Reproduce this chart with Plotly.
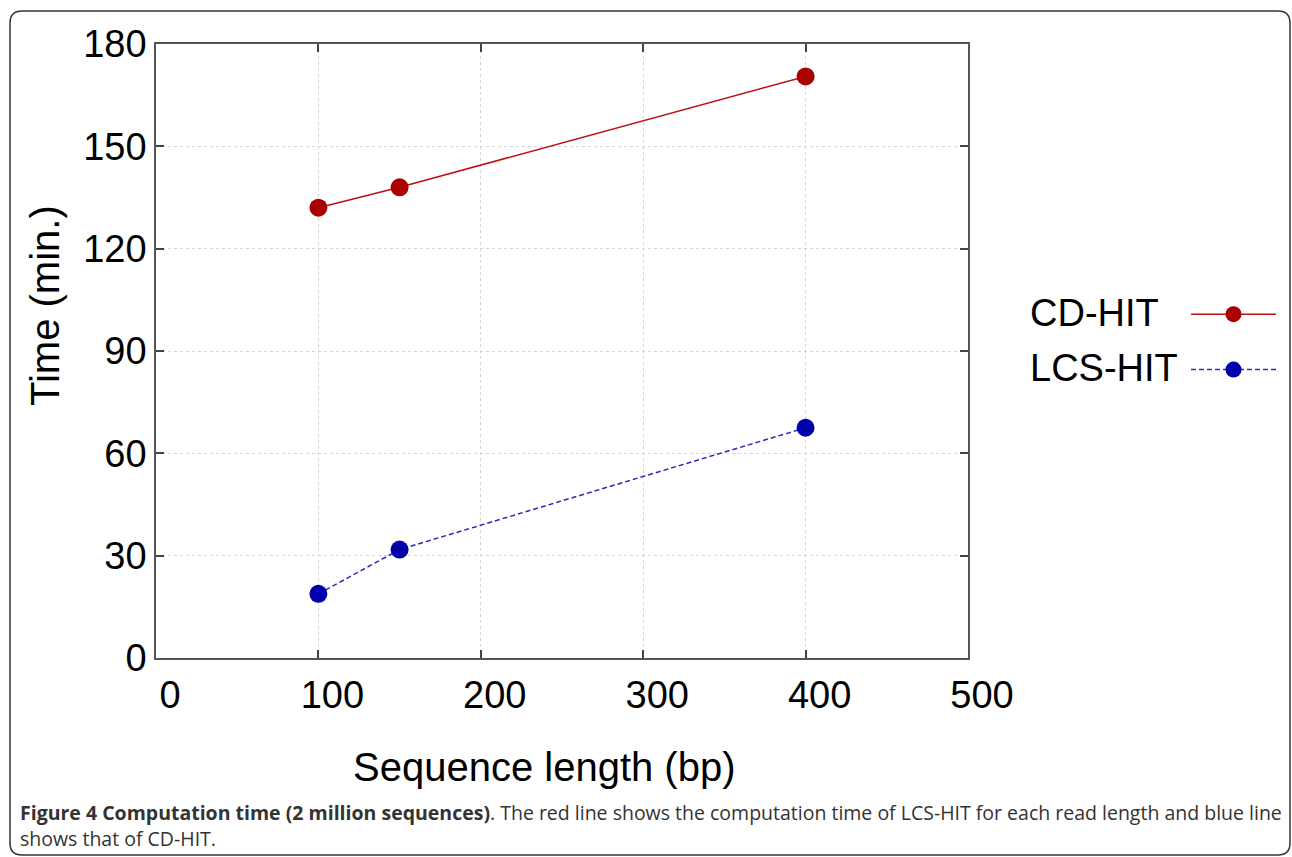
import plotly.graph_objects as go

# ---- data ----
seq_length = [100, 150, 400]
cd_hit = [132, 138, 170.5]
lcs_hit = [18.8, 31.8, 67.5]
series_names = ["CD-HIT", "LCS-HIT"]
x_ticks = [0, 100, 200, 300, 400, 500]
y_ticks = [0, 30, 60, 90, 120, 150, 180]

W, H = 1292, 857
L, R, T, B = 156, 968, 44, 658  # plot area in pixels


def px(xp):
    return (xp - L) / (R - L)


def py(yp):
    return (B - yp) / (B - T)


FONT = "Liberation Sans, Arial, sans-serif"
RED = "#aa0000"
BLUE = "#0000aa"

fig = go.Figure()
fig.add_trace(go.Scatter(
    x=seq_length, y=cd_hit, name=" ", mode="lines+markers",
    line=dict(color="#bb1111", width=1.5),
    marker=dict(color=RED, size=18), legendgroup="a",
))
fig.add_trace(go.Scatter(
    x=seq_length, y=lcs_hit, name=" ", mode="lines+markers",
    line=dict(color="#2a2abb", width=1.5, dash="5px,3px"),
    marker=dict(color=BLUE, size=18), legendgroup="b",
))

axis_common = dict(
    showline=True, linecolor="#555555", linewidth=1.5, mirror="ticks",
    ticks="inside", ticklen=8, tickwidth=2, tickcolor="#444444",
    showgrid=True, gridcolor="#d4d4d4", griddash="dot", gridwidth=1,
    zeroline=False, tickfont=dict(family=FONT, size=38, color="black"),
)

fig.update_xaxes(range=[0, 500], tickvals=x_ticks, ticklabelshift=14,
                 ticklabelstandoff=3, **axis_common)
fig.update_yaxes(range=[0, 180], tickvals=y_ticks, ticklabelstandoff=0,
                 **axis_common)

# rounded frame
x0, y0, x1, y1, r = 10, 11, 1290, 855, 12
path = (f"M {px(x0 + r)} {py(y0)} L {px(x1 - r)} {py(y0)} "
        f"Q {px(x1)} {py(y0)} {px(x1)} {py(y0 + r)} "
        f"L {px(x1)} {py(y1 - r)} Q {px(x1)} {py(y1)} {px(x1 - r)} {py(y1)} "
        f"L {px(x0 + r)} {py(y1)} Q {px(x0)} {py(y1)} {px(x0)} {py(y1 - r)} "
        f"L {px(x0)} {py(y0 + r)} Q {px(x0)} {py(y0)} {px(x0 + r)} {py(y0)} Z")
fig.add_shape(type="path", path=path, xref="paper", yref="paper",
              line=dict(color="#333333", width=1.5), layer="below")

annotations = [
    dict(text="Sequence length (bp)", x=px(544), y=py(767), xanchor="center",
         yanchor="middle", font=dict(family=FONT, size=40, color="black")),
    dict(text="Time (min.)", x=px(45), y=py(306), xanchor="center",
         yanchor="middle", textangle=-90,
         font=dict(family=FONT, size=40, color="black")),
    dict(text=series_names[0], x=px(1028), y=py(313), xanchor="left",
         yanchor="middle", font=dict(family=FONT, size=38, color="black")),
    dict(text=series_names[1], x=px(1028), y=py(368), xanchor="left",
         yanchor="middle", font=dict(family=FONT, size=38, color="black")),
    dict(text="<b>Figure 4 Computation time (2 million sequences)</b>. The red line shows the computation time of LCS-HIT for each read length and blue line",
         x=px(18), y=py(812), xanchor="left", yanchor="middle",
         font=dict(family="Open Sans", size=19.5, color="#333333")),
    dict(text="shows that of CD-HIT.",
         x=px(18), y=py(838), xanchor="left", yanchor="middle",
         font=dict(family="Open Sans", size=19.5, color="#333333")),
]
for a in annotations:
    a.update(xref="paper", yref="paper", showarrow=False)

fig.update_layout(
    width=W, height=H,
    margin=dict(l=L, r=W - R, t=T, b=H - B, autoexpand=False),
    paper_bgcolor="white", plot_bgcolor="white",
    annotations=annotations,
    showlegend=True,
    legend=dict(x=px(1186), y=py(283), xanchor="left", yanchor="top",
                itemwidth=85, tracegroupgap=3,
                font=dict(family=FONT, size=38), bgcolor="rgba(0,0,0,0)"),
)

fig.write_html("out.html", config={"displayModeBar": False},
               post_script="document.body.style.margin='0';")
